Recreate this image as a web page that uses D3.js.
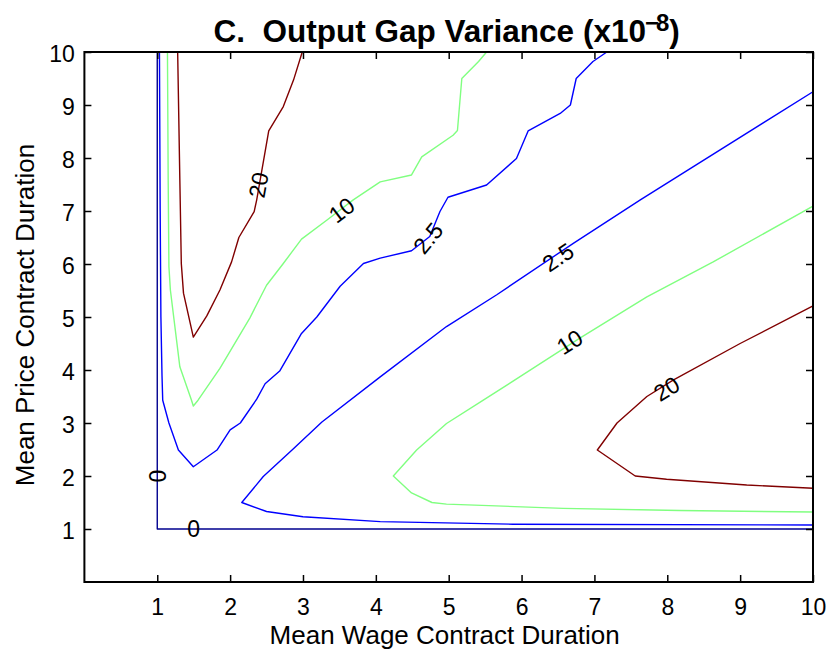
<!DOCTYPE html>
<html>
<head>
<meta charset="utf-8">
<script src="https://cdn.jsdelivr.net/npm/d3@7"></script>
<style>
  html, body { margin: 0; padding: 0; background: #fff; }
  svg { display: block; font-family: "Liberation Sans", Arial, Helvetica, sans-serif; }
</style>
</head>
<body>
<svg id="chart" width="831" height="655"></svg>
<script>
// ---------------- data ----------------
const title = "C.\u00A0 Output Gap Variance (x10";
const titleExp = "\u22128";
const xLabel = "Mean Wage Contract Duration";
const yLabel = "Mean Price Contract Duration";
const xTicks = [1, 2, 3, 4, 5, 6, 7, 8, 9, 10];
const yTicks = [1, 2, 3, 4, 5, 6, 7, 8, 9, 10];

const levels = [0, 2.5, 10, 20];
const levelColors = ["#00008f", "#0000ff", "#80ff80", "#800000"];

// contour lines [x, y] (x = wage duration, y = price duration)
const contour0 = [[1, 10], [1, 1], [10, 1]];

const contour2_5a = [[1.03, 10], [1.04, 7], [1.05, 5], [1.065, 3.9], [1.075, 3.43], [1.16, 3.0],
  [1.29, 2.49], [1.495, 2.175], [1.82, 2.49], [2.0, 2.87], [2.14, 3.0], [2.365, 3.45],
  [2.48, 3.74], [2.68, 3.98], [2.98, 4.69], [3.19, 5.0], [3.51, 5.58], [3.83, 6.01],
  [4.06, 6.11], [4.49, 6.25], [4.74, 6.52], [4.88, 6.99], [4.99, 7.26], [5.52, 7.49],
  [5.93, 7.99], [6.09, 8.51], [6.53, 8.84], [6.67, 9.0], [6.75, 9.5], [6.98, 9.82], [7.17, 10]];

const contour2_5b = [[10, 9.25], [7.63, 7.21], [6.71, 6.39], [5.66, 5.42], [4.97, 4.82],
  [4.06, 3.87], [3.26, 3.02], [2.85, 2.49], [2.455, 1.99], [2.16, 1.5], [2.5, 1.33],
  [3.0, 1.23], [4.06, 1.14], [5.88, 1.09], [10, 1.075]];

const contour10a = [[1.14, 10], [1.15, 7.58], [1.16, 5.95], [1.18, 5.51], [1.31, 4.06],
  [1.47, 3.43], [1.495, 3.32], [1.56, 3.43], [1.86, 4.03], [2.27, 4.98], [2.5, 5.6],
  [2.73, 6.01], [2.98, 6.47], [3.33, 6.83], [3.69, 7.21], [4.06, 7.55], [4.49, 7.68],
  [4.63, 8.02], [5.06, 8.43], [5.12, 8.52], [5.18, 9.5], [5.41, 9.82], [5.52, 10]];

const contour10b = [[10, 7.09], [8.63, 6.04], [7.72, 5.38], [6.8, 4.6], [5.475, 3.43],
  [4.97, 2.99], [4.56, 2.49], [4.24, 2.0], [4.49, 1.68], [4.77, 1.5], [4.97, 1.47],
  [6.57, 1.39], [8.17, 1.35], [10, 1.32]];

const contour20a = [[1.28, 10], [1.31, 7.58], [1.33, 6.01], [1.36, 5.45], [1.495, 4.62],
  [1.68, 5.02], [1.86, 5.51], [2.02, 6.04], [2.12, 6.5], [2.33, 6.99], [2.365, 7.21],
  [2.53, 8.51], [2.73, 8.97], [2.87, 9.47], [2.99, 10]];

const contour20b = [[10, 5.21], [9.0, 4.5], [8.08, 3.81], [7.72, 3.5], [7.31, 3.0],
  [7.04, 2.49], [7.56, 2.0], [7.99, 1.94], [9.09, 1.83], [10, 1.77]];

const contourLines = [
  { level: 0, points: contour0 },
  { level: 2.5, points: contour2_5a },
  { level: 2.5, points: contour2_5b },
  { level: 10, points: contour10a },
  { level: 10, points: contour10b },
  { level: 20, points: contour20a },
  { level: 20, points: contour20b }
];

// contour labels: text, line index, anchor point (data)
const contourLabels = [
  { text: "0", line: 0, at: [1.0, 2.0] },
  { text: "0", line: 0, at: [1.5, 1.0] },
  { text: "2.5", line: 1, at: [4.716, 6.49] },
  { text: "2.5", line: 2, at: [6.5, 6.13] },
  { text: "10", line: 3, at: [3.53, 7.02] },
  { text: "10", line: 4, at: [6.66, 4.53] },
  { text: "20", line: 5, at: [2.387, 7.49] },
  { text: "20", line: 6, at: [7.99, 3.65] }
];

// ---------------- layout ----------------
const svg = d3.select("#chart");
const L = 84.4, R = 813, T = 52, B = 582;
const x = d3.scaleLinear().domain([0, 10]).range([L, R]);
const y = d3.scaleLinear().domain([0, 10]).range([B, T]);
const color = d3.scaleOrdinal().domain(levels).range(levelColors);

const tickFont = 23, labelFont = 26, titleFont = 31.5;

// contour lines
const line = d3.line().x(d => x(d[0])).y(d => y(d[1]));
svg.append("g").selectAll("path").data(contourLines).join("path")
  .attr("d", d => line(d.points))
  .attr("fill", "none")
  .attr("stroke", d => color(d.level))
  .attr("stroke-width", 1.4)
  .attr("stroke-linejoin", "round");

// label angle: direction of the line around the closest point (pixel space, +-window along arc)
function labelAngle(pts, at) {
  const P = pts.map(p => [x(p[0]), y(p[1])]);
  const q = [x(at[0]), y(at[1])];
  const cum = [0];
  for (let i = 1; i < P.length; i++) cum.push(cum[i - 1] + Math.hypot(P[i][0] - P[i - 1][0], P[i][1] - P[i - 1][1]));
  let bestS = 0, bd = Infinity;
  for (let i = 1; i < P.length; i++) {
    const a = P[i - 1], b = P[i];
    const vx = b[0] - a[0], vy = b[1] - a[1];
    const len2 = vx * vx + vy * vy;
    let t = len2 ? ((q[0] - a[0]) * vx + (q[1] - a[1]) * vy) / len2 : 0;
    t = Math.max(0, Math.min(1, t));
    const px = a[0] + t * vx, py = a[1] + t * vy;
    const d = Math.hypot(q[0] - px, q[1] - py);
    if (d < bd) { bd = d; bestS = cum[i - 1] + t * Math.sqrt(len2); }
  }
  function at_s(s) {
    s = Math.max(0, Math.min(cum[cum.length - 1], s));
    for (let i = 1; i < P.length; i++) {
      if (s <= cum[i]) {
        const t = (s - cum[i - 1]) / ((cum[i] - cum[i - 1]) || 1);
        return [P[i - 1][0] + t * (P[i][0] - P[i - 1][0]), P[i - 1][1] + t * (P[i][1] - P[i - 1][1])];
      }
    }
    return P[P.length - 1];
  }
  const w = 18;
  const a = at_s(bestS - w), b = at_s(bestS + w);
  let ang = Math.atan2(b[1] - a[1], b[0] - a[0]) * 180 / Math.PI;
  if (ang > 90) ang -= 180;
  if (ang <= -90) ang += 180;
  if (Math.abs(Math.abs(ang) - 90) < 1e-6) ang = -90;
  return ang;
}
svg.append("g").selectAll("text").data(contourLabels).join("text")
  .attr("transform", d => `translate(${x(d.at[0])},${y(d.at[1])}) rotate(${labelAngle(contourLines[d.line].points, d.at)})`)
  .attr("text-anchor", "middle")
  .attr("dy", "0.36em")
  .attr("font-size", tickFont)
  .attr("fill", "#000")
  .text(d => d.text);

// axes
const tickLen = 7;
function styleAxis(g) {
  g.select(".domain").remove();
  g.selectAll(".tick line").attr("stroke", "#000").attr("stroke-width", 1.5);
  g.selectAll(".tick text").attr("font-size", tickFont).attr("fill", "#000")
    .attr("font-family", "Liberation Sans, Arial, Helvetica, sans-serif");
}
svg.append("g").attr("transform", `translate(0,${B})`)
  .call(d3.axisBottom(x).tickValues(xTicks).tickSize(-tickLen).tickPadding(16.5).tickFormat(d3.format("d")))
  .call(styleAxis);
svg.append("g").attr("transform", `translate(0,${T})`)
  .call(d3.axisTop(x).tickValues(xTicks).tickSize(-tickLen).tickFormat(""))
  .call(styleAxis);
const gl = svg.append("g").attr("transform", `translate(${L},0)`)
  .call(d3.axisLeft(y).tickValues(yTicks).tickSize(-tickLen).tickPadding(9.5).tickFormat(d3.format("d")))
  .call(styleAxis);
gl.selectAll(".tick text").attr("dy", "0.41em");
svg.append("g").attr("transform", `translate(${R},0)`)
  .call(d3.axisRight(y).tickValues(yTicks).tickSize(-tickLen).tickFormat(""))
  .call(styleAxis);

// box
svg.append("rect").attr("x", L).attr("y", T).attr("width", R - L).attr("height", B - T)
  .attr("fill", "none").attr("stroke", "#000").attr("stroke-width", 2);

// axis labels
svg.append("text").attr("x", (L + R) / 2 - 4).attr("y", 644)
  .attr("text-anchor", "middle").attr("font-size", labelFont).attr("fill", "#000").text(xLabel);
svg.append("text").attr("transform", `translate(34,${(T + B) / 2 - 2}) rotate(-90)`)
  .attr("text-anchor", "middle").attr("font-size", labelFont).attr("fill", "#000").text(yLabel);

// title
const tt = svg.append("text").attr("x", (L + R) / 2 - 2).attr("y", 42)
  .attr("text-anchor", "middle").attr("font-size", titleFont).attr("font-weight", "bold").attr("fill", "#000");
tt.append("tspan").text(title);
tt.append("tspan").attr("font-size", 24).attr("dy", -11).attr("dx", -1).attr("letter-spacing", -3).text(titleExp);
tt.append("tspan").attr("font-size", titleFont).attr("dy", 11).attr("dx", 3).text(")");
</script>
</body>
</html>
